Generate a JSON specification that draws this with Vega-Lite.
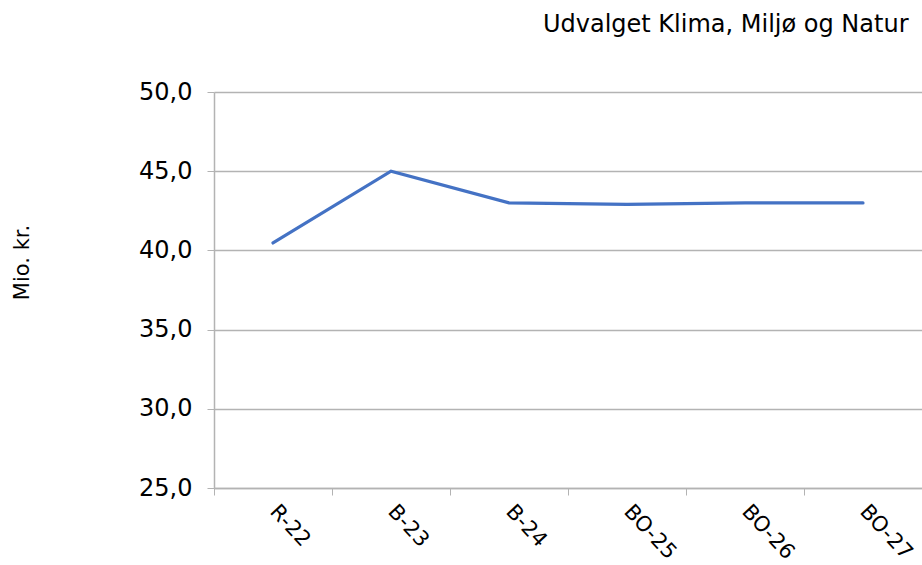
{
  "$schema": "https://vega.github.io/schema/vega-lite/v6.json",
  "width": 708,
  "height": 396,
  "autosize": {"type": "none"},
  "padding": {"left": 214, "top": 92, "right": 0, "bottom": 77},
  "background": "white",
  "config": {
    "locale": {"number": {"decimal": ",", "thousands": ".", "grouping": [3], "currency": ["", " kr."]}},
    "font": "DejaVu Sans",
    "view": {"stroke": null}
  },
  "title": {
    "text": "Udvalget Klima, Miljø og Natur",
    "anchor": "end",
    "font": "DejaVu Sans",
    "fontSize": 24,
    "fontWeight": "normal",
    "color": "#000000",
    "dx": -14,
    "offset": 43
  },
  "data": {
    "values": [
      {"year": "R-22", "value": 40.47},
      {"year": "B-23", "value": 45.0},
      {"year": "B-24", "value": 43.0},
      {"year": "BO-25", "value": 42.9},
      {"year": "BO-26", "value": 43.0},
      {"year": "BO-27", "value": 43.0}
    ]
  },
  "mark": {"type": "line", "color": "#4472C4", "strokeWidth": 3.2, "strokeCap": "round"},
  "encoding": {
    "x": {
      "field": "year",
      "type": "ordinal",
      "sort": null,
      "scale": {"paddingInner": 0, "paddingOuter": 0},
      "axis": {
        "title": null,
        "labelAngle": 47,
        "labelAlign": "left",
        "labelBaseline": "middle",
        "labelFontSize": 21,
        "labelColor": "#000000",
        "labelFont": "DejaVu Sans",
        "labelPadding": 13,
        "tickBand": "extent",
        "tickSize": 7,
        "tickColor": "#b3b3b3",
        "domainColor": "#b3b3b3",
        "domainWidth": 1.5,
        "grid": false
      }
    },
    "y": {
      "field": "value",
      "type": "quantitative",
      "scale": {"domain": [25, 50], "nice": false, "zero": false},
      "axis": {
        "title": "Mio. kr.",
        "titleFont": "DejaVu Sans",
        "titleFontSize": 21,
        "titleFontWeight": "normal",
        "titleColor": "#000000",
        "titleAngle": 270,
        "titleX": -192,
        "titleY": 170,
        "titleAlign": "center",
        "titleBaseline": "middle",
        "values": [25, 30, 35, 40, 45, 50],
        "format": ".1f",
        "labelFontSize": 24,
        "labelColor": "#000000",
        "labelFont": "DejaVu Sans",
        "labelPadding": 15,
        "tickSize": 7,
        "tickColor": "#b3b3b3",
        "domainColor": "#b3b3b3",
        "domainWidth": 1.5,
        "grid": true,
        "gridColor": "#b3b3b3",
        "gridWidth": 1.5
      }
    }
  }
}
